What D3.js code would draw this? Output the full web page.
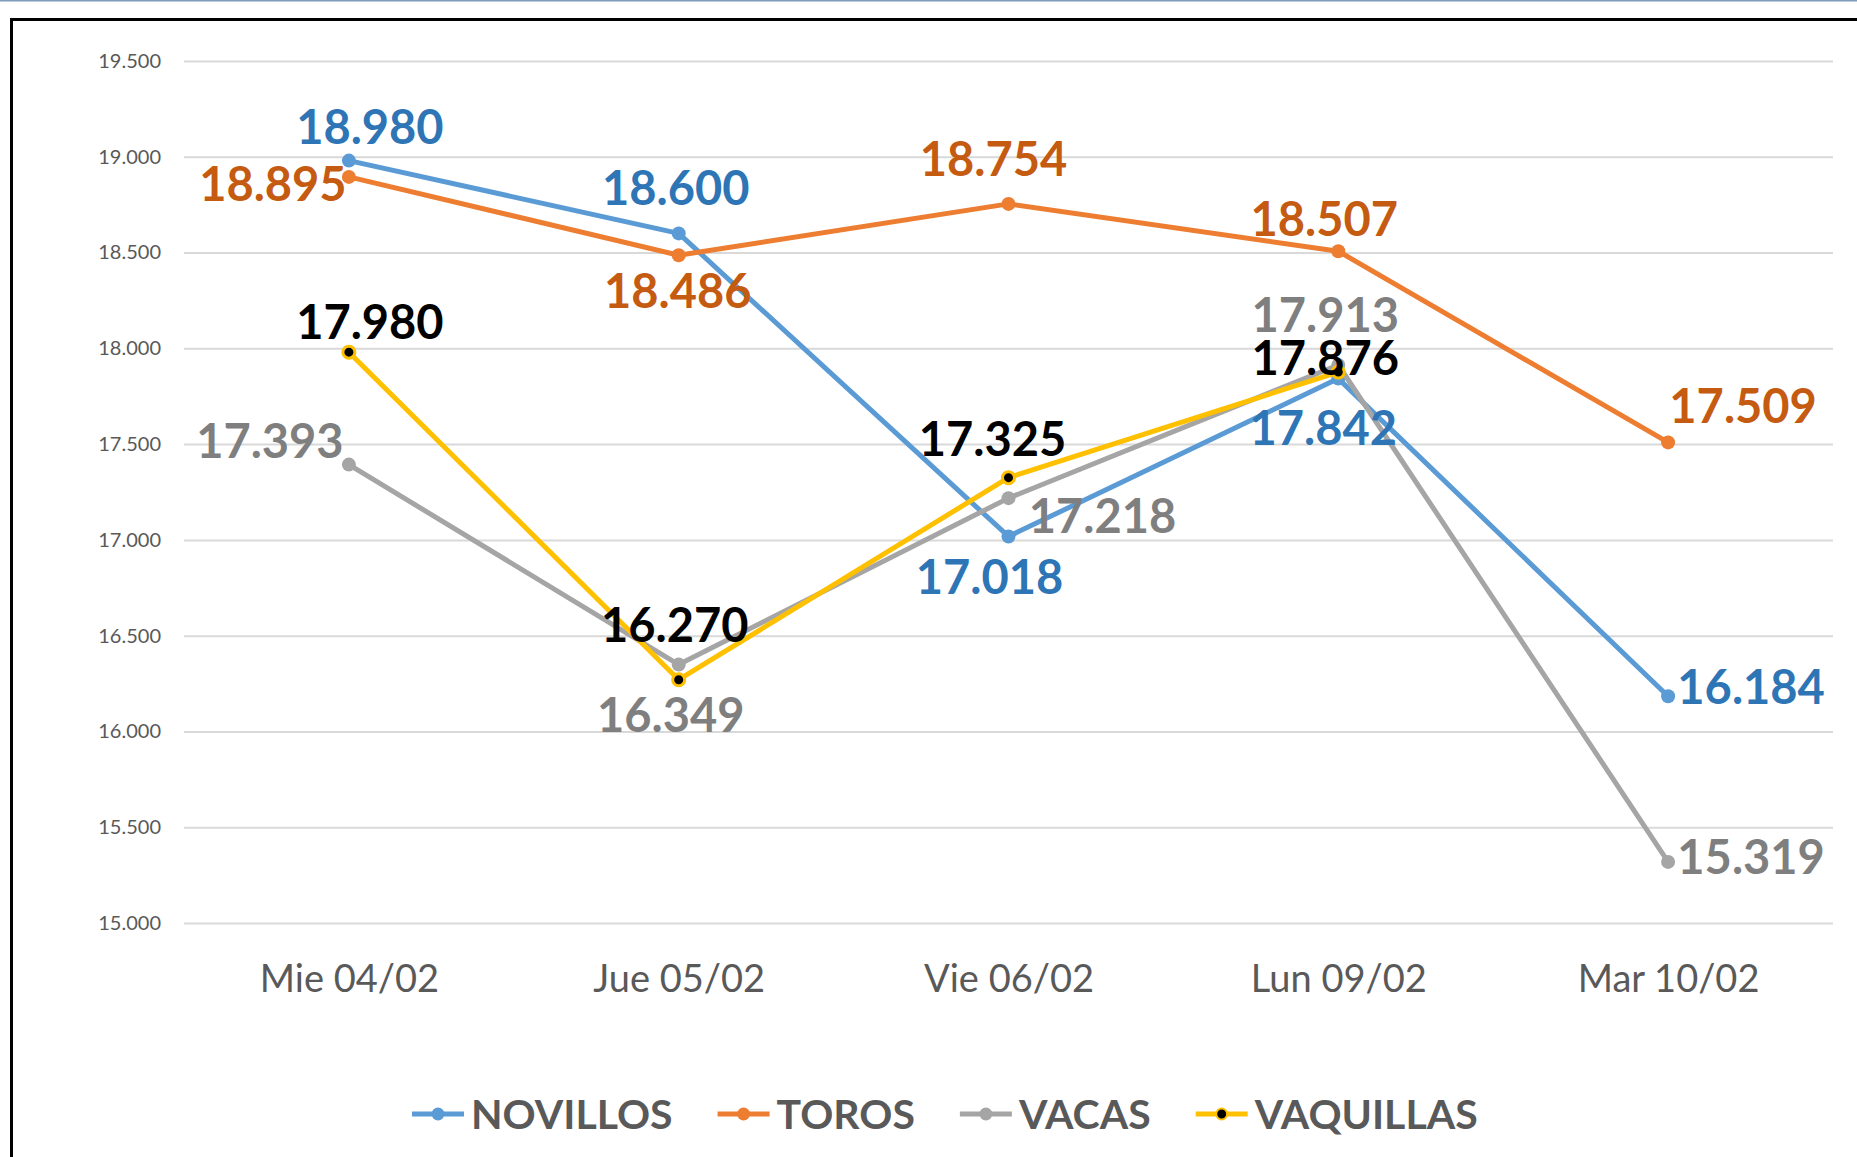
<!DOCTYPE html>
<html>
<head>
<meta charset="utf-8">
<script src="https://cdn.jsdelivr.net/npm/d3@7"></script>
<style>
  html, body { margin: 0; padding: 0; background: #fff; }
  svg { display: block; font-family: Lato, "Open Sans", sans-serif; }
</style>
</head>
<body>
<svg id="chart" width="1857" height="1157"></svg>
<script>
const days = ["Mie 04/02", "Jue 05/02", "Vie 06/02", "Lun 09/02", "Mar 10/02"];
const yTicks = [15000, 15500, 16000, 16500, 17000, 17500, 18000, 18500, 19000, 19500];

const novillos = [18980, 18600, 17018, 17842, 16184];
const toros = [18895, 18486, 18754, 18507, 17509];
const vacas = [17393, 16349, 17218, 17913, 15319];
const vaquillas = [17980, 16270, 17325, 17876, null];

// label offset from the point to the centre of the digits, per day
const series = [
  { name: "NOVILLOS", values: novillos, line: "#5b9bd5", fill: "#5b9bd5", text: "#2e75b6",
    offsets: [[21, -34], [-3, -45], [-19, 41], [-15, 49], [83, -9]] },
  { name: "TOROS", values: toros, line: "#ed7d31", fill: "#ed7d31", text: "#c55a11",
    offsets: [[-76, 7], [-1, 36], [-15, -45], [-14, -32], [75, -36]] },
  { name: "VACAS", values: vacas, line: "#a5a5a5", fill: "#a5a5a5", text: "#7f7f7f",
    offsets: [[-79, -24], [-8, 50], [94, 18], [-13, -50], [83, -5]] },
  { name: "VAQUILLAS", values: vaquillas, line: "#ffc000", fill: "#000000", text: "#000000",
    offsets: [[21, -30], [-4, -55], [-16, -39], [-13, -14], [0, 0]] }
];

const fmt = d3.formatLocale({ decimal: ",", thousands: ".", grouping: [3], currency: ["$", ""] }).format(",.0f");

const svg = d3.select("#chart");
const plotLeft = 184, plotRight = 1833, plotTop = 61, plotBottom = 923;

// frame
svg.append("line").attr("x1", 0).attr("x2", 1857).attr("y1", 0.5).attr("y2", 0.5)
  .attr("stroke", "#7f9cbd").attr("stroke-width", 2);
svg.append("path").attr("d", "M11.5,1157 V19.5 H1857")
  .attr("fill", "none").attr("stroke", "#000").attr("stroke-width", 3);

const x = d3.scalePoint().domain(days).range([plotLeft, plotRight]).padding(0.5);
const y = d3.scaleLinear().domain([15000, 19500]).range([plotBottom, plotTop]);

// gridlines + y labels
const yAxis = svg.append("g").attr("transform", `translate(${plotLeft},0)`)
  .call(d3.axisLeft(y).tickValues(yTicks).tickFormat(fmt).tickSize(-(plotRight - plotLeft)).tickPadding(23));
yAxis.select(".domain").remove();
yAxis.selectAll(".tick line").attr("stroke", "#d9d9d9").attr("stroke-width", 2);
yAxis.selectAll(".tick text").attr("fill", "#595959").style("font-size", "20px")
  .style("font-family", "Lato, sans-serif");

// x labels
const xAxis = svg.append("g").attr("transform", `translate(0,${plotBottom})`)
  .call(d3.axisBottom(x).tickSize(0).tickPadding(0));
xAxis.select(".domain").remove();
xAxis.selectAll(".tick text").attr("fill", "#595959").style("font-size", "38px")
  .style("font-family", "Lato, sans-serif").attr("dy", null).attr("y", 69);

// lines
const line = d3.line().defined((d) => d.v != null).x((d) => x(d.day)).y((d) => y(d.v));
const pts = (s) => s.values.map((v, i) => ({ day: days[i], v, off: s.offsets[i] }));

for (const s of series) {
  svg.append("path").datum(pts(s)).attr("d", line)
    .attr("fill", "none").attr("stroke", s.line).attr("stroke-width", 5).attr("stroke-linejoin", "round");
  svg.append("g").selectAll("circle").data(pts(s).filter((d) => d.v != null)).join("circle")
    .attr("cx", (d) => x(d.day)).attr("cy", (d) => y(d.v))
    .attr("r", s.name === "VAQUILLAS" ? 6 : 7)
    .attr("fill", s.fill).attr("stroke", s.line).attr("stroke-width", s.name === "VAQUILLAS" ? 3 : 0);
}

// data labels
const labelSize = 47;
for (const s of series) {
  svg.append("g").selectAll("text").data(pts(s).filter((d) => d.v != null)).join("text")
    .attr("x", (d) => x(d.day) + d.off[0])
    .attr("y", (d) => y(d.v) + d.off[1] + labelSize * 0.36)
    .attr("text-anchor", "middle")
    .attr("fill", s.text)
    .style("font-size", labelSize + "px").style("font-weight", "bold")
    .text((d) => fmt(d.v));
}

// legend
const legend = svg.append("g");
let lx = 412;
const ly = 1114;
for (const s of series) {
  const g = legend.append("g").attr("transform", `translate(${lx},0)`);
  g.append("line").attr("x1", 0).attr("x2", 52).attr("y1", ly).attr("y2", ly)
    .attr("stroke", s.line).attr("stroke-width", 5);
  g.append("circle").attr("cx", 26).attr("cy", ly)
    .attr("r", s.name === "VAQUILLAS" ? 5.5 : 6.5)
    .attr("fill", s.fill).attr("stroke", s.line).attr("stroke-width", s.name === "VAQUILLAS" ? 2 : 0);
  const t = g.append("text").attr("x", 59).attr("y", ly + 15)
    .attr("fill", "#595959").style("font-size", "41px").style("font-weight", "bold")
    .text(s.name);
  lx += 59 + t.node().getComputedTextLength() + 45;
}
</script>
</body>
</html>
